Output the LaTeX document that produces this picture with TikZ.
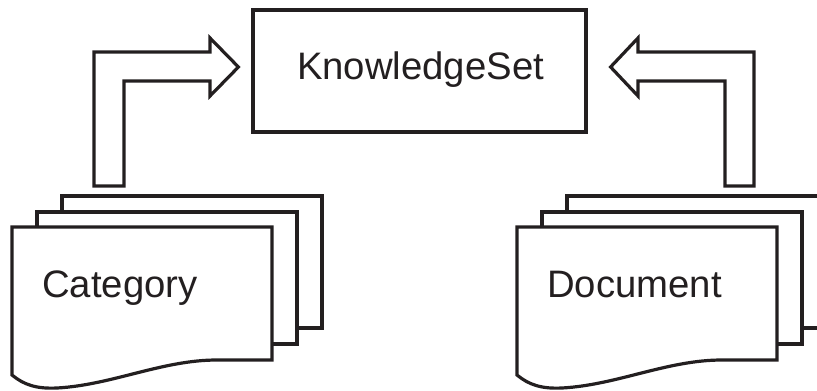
\documentclass[tikz,border=0pt]{standalone}
\usepackage{fontspec}
\setmainfont{Liberation Sans}
\definecolor{ink}{RGB}{35,31,32}
\begin{document}
\begin{tikzpicture}[x=1pt, y=-1pt,
  outline/.style={draw=ink, line width=3.2pt, line join=miter, fill=white},
  lbl/.style={font=\fontsize{38.3}{46}\selectfont, text=ink, inner sep=0pt},
  docstack/.pic={
    % two sheets behind
    \draw[outline] (50,-31) rectangle (310,101);
    \draw[outline] (25,-15) rectangle (285,117);
    % front sheet with wavy lower edge
    \draw[outline] (0,148) -- (0,0) -- (260,0) -- (260,133) -- (205,133)
      .. controls (150,133) and (100,158) .. (45,161)
      .. controls (25,162) and (12,158) .. (0,148) -- cycle;
    \node[lbl, anchor=base west] (-label) at (30,70) {#1};
  }]
\useasboundingbox (0,0) rectangle (817,391);

% central box
\node[outline, minimum width=333pt, minimum height=122pt, inner sep=0pt] (ks) at (419.5,71) {};
\node[lbl, anchor=base] (kslabel) at (420.5,79) {KnowledgeSet};

% sheet stacks
\pic (cat) at (12,227) {docstack=Category};
\pic (doc) at (517,227) {docstack=Document};

% bent block arrows into the central box
\coordinate (ltip) at ([xshift=-13pt]ks.west |- 0,67);
\coordinate (rtip) at ([xshift=23pt]ks.east |- 0,67);
\draw[outline] (94,186) -- (94,52) -- (210,52) -- (210,38) -- (ltip)
  -- (210,96) -- (210,81) -- (124,81) -- (124,186) -- cycle;
\draw[outline] (754,186) -- (754,52) -- (638,52) -- (638,38) -- (rtip)
  -- (638,96) -- (638,81) -- (725,81) -- (725,186) -- cycle;
\end{tikzpicture}
\end{document}
